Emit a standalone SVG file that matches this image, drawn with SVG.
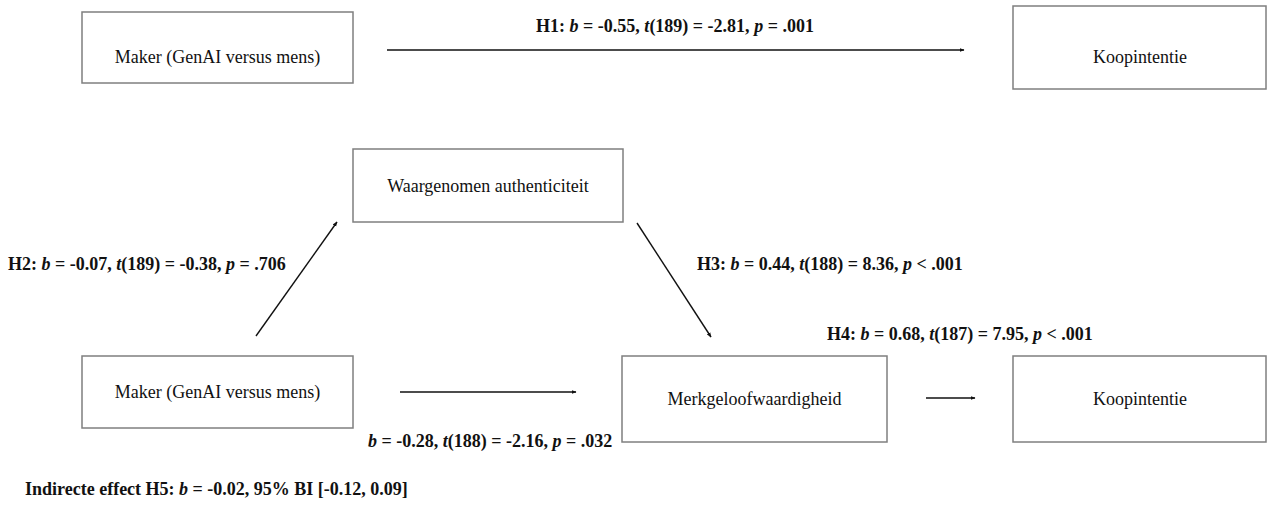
<svg xmlns="http://www.w3.org/2000/svg" width="1268" height="506" viewBox="0 0 1268 506">
<style>
.box{fill:#fff;stroke:#7f7f7f;stroke-width:1.5}
.nt{font-family:"Liberation Serif","Times New Roman",serif;font-size:18px;fill:#111;text-anchor:middle}
.lb{font-family:"Liberation Serif","Times New Roman",serif;font-size:18px;font-weight:bold;fill:#111}
.e{stroke:#111;stroke-width:1.4;fill:none;marker-end:url(#ah)}
</style>
<defs>
<marker id="ah" viewBox="0 0 10 10" refX="9" refY="5" markerWidth="5" markerHeight="5" orient="auto" markerUnits="userSpaceOnUse">
<path d="M0,1 L10,5 L0,9 z" fill="#111"/>
</marker>
</defs>
<rect width="1268" height="506" fill="#fff"/>
<g id="n-maker-top"><rect class="box" x="82" y="12" width="271" height="71"/><text class="nt" x="217.5" y="63">Maker (GenAI versus mens)</text></g>
<g id="n-koop-top"><rect class="box" x="1013" y="6" width="253" height="83"/><text class="nt" x="1140" y="63">Koopintentie</text></g>
<g id="n-auth"><rect class="box" x="353" y="149" width="270" height="73"/><text class="nt" x="488" y="192">Waargenomen authenticiteit</text></g>
<g id="n-maker-bot"><rect class="box" x="82" y="356" width="271" height="72"/><text class="nt" x="217.5" y="398">Maker (GenAI versus mens)</text></g>
<g id="n-merk"><rect class="box" x="622" y="356" width="265" height="86"/><text class="nt" x="754.5" y="405">Merkgeloofwaardigheid</text></g>
<g id="n-koop-bot"><rect class="box" x="1013" y="356" width="253" height="86"/><text class="nt" x="1140" y="405">Koopintentie</text></g>
<g id="connectors">
<line class="e" x1="387" y1="50" x2="964" y2="50"/>
<line class="e" x1="256" y1="336" x2="337" y2="222"/>
<line class="e" x1="637" y1="223" x2="711" y2="337"/>
<line class="e" x1="400" y1="392" x2="576" y2="392"/>
<line class="e" x1="926" y1="398" x2="975" y2="398"/>
</g>
<g id="labels">
<text class="lb" x="675" y="32" text-anchor="middle">H1: <tspan font-style="italic">b</tspan> = -0.55, <tspan font-style="italic">t</tspan>(189) = -2.81, <tspan font-style="italic">p</tspan> = .001</text>
<text class="lb" x="8" y="270">H2: <tspan font-style="italic">b</tspan> = -0.07, <tspan font-style="italic">t</tspan>(189) = -0.38, <tspan font-style="italic">p</tspan> = .706</text>
<text class="lb" x="697" y="270">H3: <tspan font-style="italic">b</tspan> = 0.44, <tspan font-style="italic">t</tspan>(188) = 8.36, <tspan font-style="italic">p</tspan> &lt; .001</text>
<text class="lb" x="827" y="340">H4: <tspan font-style="italic">b</tspan> = 0.68, <tspan font-style="italic">t</tspan>(187) = 7.95, <tspan font-style="italic">p</tspan> &lt; .001</text>
<text class="lb" x="368" y="447"><tspan font-style="italic">b</tspan> = -0.28, <tspan font-style="italic">t</tspan>(188) = -2.16, <tspan font-style="italic">p</tspan> = .032</text>
<text class="lb" x="25" y="495">Indirecte effect H5: <tspan font-style="italic">b</tspan> = -0.02, 95% BI [-0.12, 0.09]</text>
</g>
</svg>
